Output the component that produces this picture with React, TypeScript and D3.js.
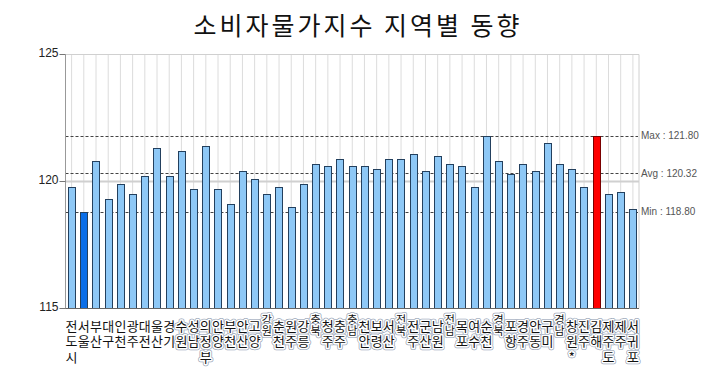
import React from "react";
import * as d3 from "d3";

const categories = [
  "전도시", "서울", "부산", "대구", "인천", "광주", "대전", "울산", "경기", "수원",
  "성남", "의정부", "안양", "부천", "안산", "고양", "강원", "춘천", "원주", "강릉",
  "충북", "청주", "충주", "충남", "천안", "보령", "서산", "전북", "전주", "군산",
  "남원", "전남", "목포", "여수", "순천", "경북", "포항", "경주", "안동", "구미",
  "경남", "창원*", "진주", "김해", "제주도", "제주", "서귀포",
];
const values = [
  119.8, 118.8, 120.8, 119.3, 119.9, 119.5, 120.2, 121.3, 120.2, 121.2,
  119.7, 121.4, 119.7, 119.1, 120.4, 120.1, 119.5, 119.8, 119.0, 119.9,
  120.7, 120.6, 120.9, 120.6, 120.6, 120.5, 120.9, 120.9, 121.1, 120.4,
  121.0, 120.7, 120.6, 119.8, 121.8, 120.8, 120.3, 120.7, 120.4, 121.5,
  120.7, 120.5, 119.8, 121.8, 119.5, 119.6, 118.9,
];
const compactLabels = ["강원", "충북", "충남", "전북", "전남", "경북", "경남"];
const yTicks = [115, 120, 125];
const title = "소비자물가지수 지역별 동향";

const W = 720;
const H = 392;
const left = 65.5;
const right = 639;
const top = 54.5;
const bottom = 308.5;

export default function App() {
  const x = d3.scaleBand<number>().domain(d3.range(categories.length)).range([left, right]).padding(0);
  const y = d3.scaleLinear().domain([115, 125]).range([bottom, top]);
  const bw = x.bandwidth() * 0.6;

  const maxV = d3.max(values) as number;
  const minV = d3.min(values) as number;
  const avgV = d3.mean(values) as number;
  const maxIdx = values.lastIndexOf(maxV);
  const minIdx = values.indexOf(minV);

  const refLines = [
    { label: "Max", v: maxV },
    { label: "Avg", v: avgV },
    { label: "Min", v: minV },
  ];

  const cx = (i: number) => (x(i) as number) + x.bandwidth() / 2;

  return (
    <svg
      width={W}
      height={H}
      style={{ position: "absolute", left: 0, top: 0, background: "#fff" }}
      xmlns="http://www.w3.org/2000/svg"
    >
      <text
        x={358}
        y={24}
        textAnchor="middle"
        dominantBaseline="central"
        fontFamily="'Noto Sans CJK KR', sans-serif"
        fontSize={25}
        letterSpacing={3}
        fill="#111"
      >
        {title}
      </text>

      {/* vertical grid at category centers */}
      {categories.map((c, i) => (
        <line key={"vg" + i} x1={cx(i)} x2={cx(i)} y1={top} y2={bottom} stroke="#dcdcdc" strokeWidth={1} />
      ))}
      {/* horizontal grid */}
      {yTicks.map((t) => (
        <line
          key={"hg" + t}
          x1={left}
          x2={right}
          y1={y(t)}
          y2={y(t)}
          stroke={t === 115 ? "#555" : "#d0d0d0"}
          strokeWidth={t === 120 ? 2 : 1}
        />
      ))}
      <line x1={right} x2={right} y1={top} y2={bottom} stroke="#d0d0d0" />

      {/* reference lines */}
      {refLines.map((r) => (
        <g key={r.label}>
          <line
            x1={left}
            x2={right - 1}
            y1={Math.round(y(r.v)) + 0.5}
            y2={Math.round(y(r.v)) + 0.5}
            stroke="#444"
            strokeWidth={1}
            strokeDasharray="3,2"
          />
          <text
            x={right + 2}
            y={y(r.v)}
            dominantBaseline="central"
            fontFamily="'Liberation Sans', Arial, sans-serif"
            fontSize={10}
            fill="#555"
          >
            {`${r.label} : ${r.v.toFixed(2)}`}
          </text>
        </g>
      ))}

      {/* bars */}
      {values.map((v, i) => {
        const fill = i === maxIdx ? "#ff0000" : i === minIdx ? "#0a6ee8" : "#8ec8f6";
        const stroke = i === maxIdx ? "#7a0000" : "#23405e";
        return (
          <rect
            key={"b" + i}
            x={Math.round(cx(i) - bw / 2) + 0.5}
            y={Math.round(y(v)) + 0.5}
            width={Math.round(bw)}
            height={bottom - Math.round(y(v)) - 0.5}
            fill={fill}
            stroke={stroke}
            strokeWidth={1}
          />
        );
      })}

      {/* left axis */}
      <line x1={left} x2={left} y1={top} y2={bottom} stroke="#999" />
      <line x1={left} x2={right} y1={bottom} y2={bottom} stroke="#666" />
      {yTicks.map((t) => (
        <g key={"yt" + t}>
          <line x1={left - 6} x2={left} y1={y(t)} y2={y(t)} stroke="#777" />
          <text
            x={left - 7}
            y={y(t) - 1.5}
            textAnchor="end"
            dominantBaseline="central"
            fontFamily="'Liberation Sans', Arial, sans-serif"
            fontSize={12}
            fill="#222"
          >
            {t}
          </text>
        </g>
      ))}

      {/* vertical category labels */}
      {categories.map((c, i) => {
        const compact = compactLabels.includes(c);
        const chars = Array.from(c);
        const fs = compact ? 11 : 13;
        const y0 = compact ? 319 : 325;
        const step = compact ? 11 : 15.5;
        const halo = i >= 9;
        return (
          <g key={"lab" + i} fontFamily="'Noto Sans CJK KR', sans-serif" fontSize={fs} textAnchor="middle">
            {chars.map((ch, k) => (
              <g key={k}>
                {halo && (
                  <text
                    x={cx(i)}
                    y={y0 + k * step}
                    dominantBaseline="central"
                    stroke="#9aa6b8"
                    strokeWidth={4.5}
                    strokeLinejoin="round"
                    fill="none"
                  >
                    {ch}
                  </text>
                )}
                {halo && (
                  <text
                    x={cx(i)}
                    y={y0 + k * step}
                    dominantBaseline="central"
                    stroke="#fff"
                    strokeWidth={3}
                    strokeLinejoin="round"
                    fill="#fff"
                  >
                    {ch}
                  </text>
                )}
                <text x={cx(i)} y={y0 + k * step} dominantBaseline="central" fill="#111">
                  {ch}
                </text>
              </g>
            ))}
          </g>
        );
      })}
    </svg>
  );
}
